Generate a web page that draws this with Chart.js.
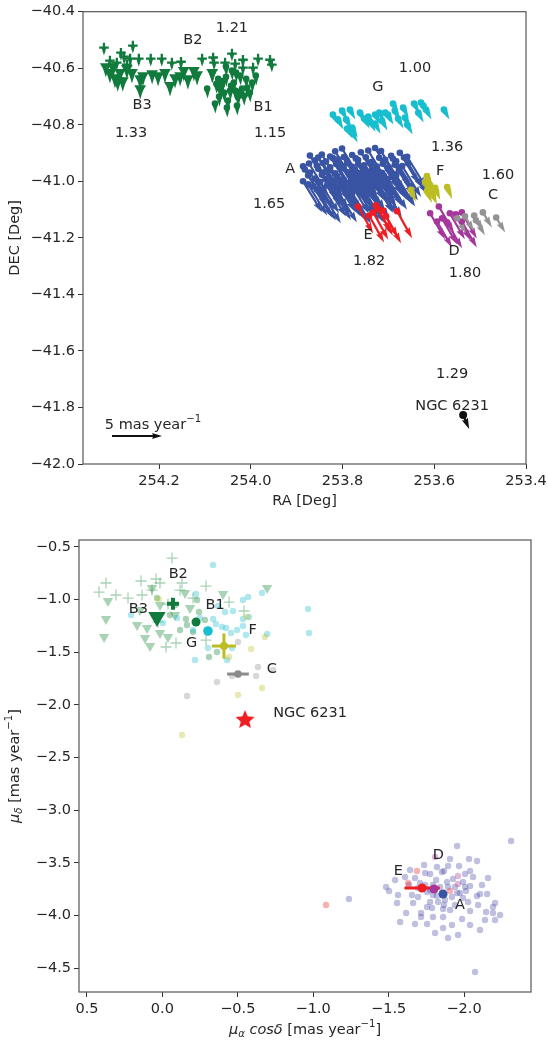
<!DOCTYPE html>
<html><head><meta charset="utf-8">
<script src="https://cdn.jsdelivr.net/npm/chart.js@4.4.1/dist/chart.umd.min.js"></script>
<style>
html,body{margin:0;padding:0;background:#fff;}
#wrap{position:relative;width:548px;height:1042px;overflow:hidden;}
canvas{position:absolute;left:0;}
#c1{top:0;} #c2{top:520px;}
</style></head><body>
<div id="wrap"><canvas id="c1" width="548" height="520"></canvas><canvas id="c2" width="548" height="522"></canvas></div>
<script>
// ================= TOP PANEL DATA (RA, DEC in deg) =================
const topXTicks = [253.4, 253.6, 253.8, 254.0, 254.2];
const topYTicks = [-42.0, -41.8, -41.6, -41.4, -41.2, -41.0, -40.8, -40.6, -40.4];

const A_ra = [253.801, 253.729,
 253.816, 253.760, 253.744, 253.716, 253.675,
 253.871, 253.845, 253.827, 253.779, 253.694, 253.659,
 253.853, 253.821, 253.797, 253.771, 253.749, 253.720, 253.690, 253.666,
 253.860, 253.836, 253.810, 253.790, 253.766, 253.736, 253.707, 253.683,
 253.873, 253.843, 253.814, 253.790, 253.766, 253.740, 253.712, 253.686, 253.657,
 253.886, 253.856, 253.827, 253.803, 253.779, 253.753, 253.725, 253.699, 253.670,
 253.882, 253.853, 253.827, 253.797, 253.773, 253.751, 253.727, 253.701, 253.677,
 253.871, 253.838, 253.816, 253.788, 253.764, 253.740, 253.714, 253.688,
 253.875, 253.845, 253.812, 253.779, 253.757, 253.734, 253.710, 253.683,
 253.860, 253.829, 253.801, 253.773, 253.749, 253.723, 253.701,
 253.886, 253.849, 253.814, 253.784, 253.757, 253.731,
 253.875, 253.825, 253.803, 253.775, 253.749, 253.723,
 253.864, 253.834, 253.795, 253.766, 253.740, 253.712,
 253.856, 253.823, 253.790, 253.762,
 253.845, 253.810, 253.779, 253.751];
const A_dec = [-40.884, -40.882,
 -40.894, -40.897, -40.891, -40.893, -40.899,
 -40.909, -40.905, -40.912, -40.907, -40.910, -40.913,
 -40.916, -40.918, -40.914, -40.919, -40.915, -40.917, -40.920, -40.916,
 -40.926, -40.930, -40.922, -40.928, -40.925, -40.931, -40.924, -40.929,
 -40.937, -40.935, -40.939, -40.936, -40.940, -40.934, -40.938, -40.941, -40.936,
 -40.947, -40.944, -40.950, -40.945, -40.949, -40.943, -40.948, -40.951, -40.946,
 -40.958, -40.956, -40.960, -40.955, -40.959, -40.957, -40.961, -40.956, -40.958,
 -40.969, -40.966, -40.972, -40.968, -40.971, -40.965, -40.970, -40.974,
 -40.979, -40.977, -40.981, -40.978, -40.982, -40.976, -40.980, -40.979,
 -40.990, -40.987, -40.993, -40.989, -40.992, -40.986, -40.991,
 -41.000, -41.003, -40.998, -41.004, -40.999, -41.002,
 -41.011, -41.009, -41.013, -41.010, -41.012, -41.008,
 -41.018, -41.015, -41.020, -41.016, -41.021, -41.017,
 -41.029, -41.027, -41.030, -41.028,
 -41.039, -41.036, -41.041, -41.037];

const B1_ra = [254.095, 254.078, 254.084, 254.071, 254.063, 254.054, 254.045, 254.037, 254.028, 254.032, 254.019, 254.010, 254.008, 253.997, 254.002, 254.050, 254.058, 254.067, 254.041, 254.023, 254.015, 253.989, 254.054, 254.069, 254.034, 254.030, 254.052, 254.061, 254.043, 254.026, 254.075];
const B1_dec = [-40.672, -40.725, -40.615, -40.637, -40.658, -40.630, -40.679, -40.651, -40.700, -40.615, -40.672, -40.637, -40.668, -40.651, -40.686, -40.714, -40.686, -40.672, -40.608, -40.626, -40.697, -40.626, -40.594, -40.700, -40.679, -40.732, -40.739, -40.645, -40.662, -40.683, -40.655];

const B2_ra = [254.320, 254.307, 254.283, 254.276, 254.257, 254.263, 254.244, 254.218, 254.194, 254.172, 254.152, 254.106, 254.082, 254.080, 254.056, 254.041, 254.034, 254.017, 254.017, 253.995, 253.984, 253.958, 253.954, 254.292, 254.270];
const B2_dec = [-40.527, -40.573, -40.545, -40.559, -40.520, -40.566, -40.566, -40.566, -40.566, -40.580, -40.577, -40.566, -40.562, -40.580, -40.580, -40.548, -40.584, -40.570, -40.598, -40.598, -40.566, -40.570, -40.587, -40.580, -40.587];

const B3_ra = [254.307, 254.296, 254.285, 254.279, 254.270, 254.259, 254.241, 254.235, 254.215, 254.187, 254.176, 254.165, 254.154, 254.137, 254.124, 254.117, 254.241, 254.316, 254.300, 254.290, 254.202, 254.146, 254.084];
const B3_dec = [-40.615, -40.633, -40.615, -40.644, -40.601, -40.615, -40.637, -40.626, -40.619, -40.615, -40.661, -40.633, -40.626, -40.637, -40.608, -40.623, -40.672, -40.594, -40.594, -40.644, -40.626, -40.608, -40.615];

const G_ra = [253.821, 253.810, 253.792, 253.784, 253.790, 253.779, 253.779, 253.753, 253.744, 253.740, 253.729, 253.729, 253.720, 253.714, 253.707, 253.701, 253.690, 253.686, 253.668, 253.664, 253.659, 253.644, 253.635, 253.629, 253.624, 253.618, 253.579, 253.762, 253.679, 253.801];
const G_dec = [-40.764, -40.781, -40.781, -40.746, -40.813, -40.810, -40.827, -40.778, -40.771, -40.789, -40.764, -40.796, -40.757, -40.785, -40.757, -40.764, -40.725, -40.750, -40.739, -40.774, -40.799, -40.725, -40.757, -40.721, -40.732, -40.746, -40.746, -40.757, -40.778, -40.750];

const E_ra = [253.766, 253.742, 253.727, 253.723, 253.712, 253.705, 253.681, 253.733];
const E_dec = [-41.089, -41.121, -41.085, -41.096, -41.103, -41.124, -41.106, -41.110];

const F_ra = [253.616, 253.614, 253.620, 253.609, 253.598, 253.651, 253.572, 253.605, 253.616];
const F_dec = [-40.981, -40.995, -41.002, -41.013, -41.023, -41.030, -41.020, -41.040, -41.034];

const D_ra = [253.609, 253.590, 253.594, 253.583, 253.566, 253.553, 253.540, 253.540, 253.572];
const D_dec = [-41.113, -41.089, -41.142, -41.131, -41.113, -41.117, -41.110, -41.142, -41.145];

const C_ra = [253.550, 253.533, 253.513, 253.494, 253.465, 253.509];
const C_dec = [-41.131, -41.124, -41.121, -41.110, -41.128, -41.138];

const NGC_ra = [253.537];
const NGC_dec = [-41.827];

// arrow (proper motion) per group, mas/yr, as drawn in the top panel
const quiverGroups = ['B3', 'B2', 'B1', 'G', 'A', 'E', 'F', 'D', 'C', 'NGC'];
const quiverPmra  = [0.0, 0.0, -0.05, -0.55, -1.9, -1.5, -0.5, -1.5, -0.9, -0.6];
const quiverPmdec = [-1.1, -0.8, -1.0, -1.0, -3.1, -2.7, -1.2, -2.6, -1.5, -1.4];
const keyPm = [5];

const topLabels = ['1.21','B2','B3','1.33','B1','1.15','1.00','G','1.36','F','1.60','C','A','1.65','E','1.82','D','1.80','1.29','NGC 6231'];
const topLabelRa = [254.041, 254.126, 254.237, 254.261, 253.973, 253.958, 253.642, 253.723, 253.572, 253.587, 253.461, 253.472, 253.914, 253.960, 253.744, 253.742, 253.557, 253.533, 253.561, 253.561];
const topLabelDec = [-40.457, -40.502, -40.732, -40.831, -40.738, -40.831, -40.601, -40.668, -40.880, -40.965, -40.979, -41.050, -40.958, -41.082, -41.191, -41.283, -41.248, -41.325, -41.682, -41.795];

// ================= BOTTOM PANEL DATA (pmra*cosdec, pmdec in mas/yr) =================
const botXTicks = [0.5, 0.0, -0.5, -1.0, -1.5, -2.0];
const botYTicks = [-4.5, -4.0, -3.5, -3.0, -2.5, -2.0, -1.5, -1.0, -0.5];

const fA_pmra = [-1.954,-2.312,-1.483,-1.503,-1.556,-1.576,-1.675,-1.735,-1.775,-1.821,-1.854,-1.867,-1.907,-2.033,-2.086,-2.007,-2.040,-2.060,-2.119,-2.007,-1.993,-2.086,-2.106,-2.153,-2.206,-2.192,-2.192,-2.146,-2.040,-1.987,-1.960,-1.894,-1.808,-1.861,-1.794,-1.715,-1.715,-1.755,-1.775,-1.695,-1.655,-1.635,-1.609,-1.675,-1.708,-1.755,-1.794,-1.861,-1.907,-1.920,-1.954,-2.013,-2.040,-1.993,-1.927,-1.887,-1.841,-1.794,-1.874,-1.828,-1.940,-1.662,-1.755,-1.237,-2.073,-1.815,-1.854,-1.894,-1.742,-1.775,-1.821,-1.940,-1.973,-1.867,-1.788,-1.695,-1.742,-1.894,-1.967,-2.093,-2.027,-1.616,-1.543,-2.139,-2.106,-2.040,-1.920,-1.861,-1.642,-1.562,-2.159,-2.206,-2.239];
const fA_pmdec = [-3.341,-3.293,-3.730,-3.768,-3.882,-4.063,-4.082,-3.521,-3.607,-3.540,-3.588,-3.578,-3.464,-3.464,-3.483,-3.607,-3.578,-3.635,-3.711,-3.730,-3.835,-3.816,-3.797,-3.797,-3.882,-3.920,-3.977,-3.968,-3.958,-4.034,-4.186,-4.215,-4.167,-4.015,-4.015,-4.015,-3.977,-3.920,-3.873,-3.825,-3.806,-3.711,-3.635,-3.645,-3.692,-3.778,-3.711,-3.939,-3.949,-3.825,-3.787,-3.768,-3.721,-3.683,-3.654,-3.683,-3.730,-3.806,-3.854,-3.873,-3.901,-3.882,-4.082,-3.844,-4.538,-3.664,-3.787,-3.730,-3.711,-3.759,-3.816,-3.730,-3.787,-3.901,-3.930,-3.740,-3.597,-3.531,-3.531,-3.901,-3.873,-3.977,-3.664,-4.044,-4.139,-4.092,-4.092,-4.120,-3.569,-3.806,-3.645,-4.044,-3.997];

const fB2_pmra = [-0.064, 0.142, 0.042, 0.016, -0.130, -0.289, 0.374, 0.420, 0.308, 0.135, -0.442, -0.541, -0.024, -0.090, -0.289, -0.117, -0.203, 0.069, -0.037, 0.029, 0.228];
const fB2_pmdec = [-0.605, -0.823, -0.804, -0.842, -0.842, -0.871, -0.842, -0.928, -0.956, -0.956, -1.023, -1.108, -1.450, -1.412, -1.384, -0.909, -0.985, -0.909, -1.042, -1.213, -0.985];

const fB3_pmra = [0.361, 0.374, 0.387, 0.168, 0.102, 0.115, 0.082, 0.069, 0.016, -0.037, -0.150, -0.183, -0.402, -0.694, 0.149, -0.084, 0.016];
const fB3_pmdec = [-1.013, -1.184, -1.355, -1.241, -1.270, -1.365, -1.441, -0.890, -1.317, -1.355, -0.937, -1.080, -0.947, -0.890, -1.099, -1.146, -1.051];

const fB1_pmra = [0.036, -0.229, -0.243, -0.156, -0.117, -0.309, -0.362, -0.163, -0.050, -0.084, -0.282, -0.203];
const fB1_pmdec = [-0.985, -1.004, -1.118, -1.184, -1.289, -1.545, -1.498, -1.241, -1.146, -1.051, -1.194, -1.308];

const fG_pmra = [-0.336, -0.223, -0.534, -0.568, -0.660, -0.468, -0.534, -0.336, -0.355, -0.395, -0.422, -0.455, -0.495, -0.534, -0.554, -0.694, -0.966, -0.972, -0.216, -0.428, -0.302, -0.462, 0.208, -0.203, -0.249, -0.004, -0.097, -0.574, -0.415, -0.369];
const fG_pmdec = [-0.671, -0.947, -1.004, -0.975, -0.937, -1.108, -1.184, -1.184, -1.232, -1.260, -1.270, -1.317, -1.289, -1.251, -1.336, -1.327, -1.089, -1.317, -1.574, -1.574, -1.460, -1.460, -1.146, -1.289, -1.175, -1.222, -1.175, -1.165, -1.118, -1.061];

const fF_pmra = [0.023, -0.561, -0.588, -0.680, -0.660, -0.501, -0.442, -0.130];
const fF_pmdec = [-0.994, -1.165, -1.469, -1.355, -1.840, -1.906, -1.545, -2.286];

const fC_pmra = [-0.501, -0.634, -0.733, -0.621, -0.362, -0.163, -0.462];
const fC_pmdec = [-1.403, -1.640, -1.669, -1.726, -1.783, -1.916, -1.726];

const fE_pmra = [-1.085, -1.688, -1.629, -1.907];
const fE_pmdec = [-3.901, -3.578, -3.692, -3.768];

const fD_pmra = [-1.808, -1.960, -1.960];
const fD_pmdec = [-3.445, -3.626, -3.702];

const meanNames  = ['B2', 'B3', 'B1', 'G', 'F', 'C', 'NGC 6231', 'E', 'D', 'A'];
const meanPmra   = [-0.070, 0.036, -0.223, -0.302, -0.408, -0.501, -0.548, -1.722, -1.801, -1.861];
const meanPmdec  = [-1.040, -1.164, -1.213, -1.298, -1.441, -1.707, -2.144, -3.740, -3.749, -3.797];
const meanErrRa  = [0, 0, 0, 0, 0.080, 0.072, 0.030, 0.117, 0, 0];
const meanErrDec = [0, 0, 0, 0, 0.120, 0.012, 0.015, 0, 0, 0];

const botLabels = ['B2', 'B3', 'B1', 'G', 'F', 'C', 'NGC 6231', 'E', 'D', 'A'];
const botLabelX = [-0.105, 0.160, -0.349, -0.194, -0.599, -0.725, -0.979, -1.564, -1.830, -1.973];
const botLabelY = [-0.759, -1.092, -1.051, -1.415, -1.292, -1.662, -2.080, -3.576, -3.426, -3.901];

// ================= STYLE =================
const FONT = "'DejaVu Sans', 'Liberation Sans', sans-serif";
const FS = 14.5;
const TXT = '#262626';
const cGreen = '#107b3c', cCyan = '#17becf', cBlue = '#3a54a4', cRed = '#ee1d23',
      cOlive = '#bcbd22', cPurple = '#a4369c', cGray = '#939393', cBlack = '#111111';
const ARROW_PX = 10; // pixels per mas/yr

function rgba(hex, a) {
  const n = parseInt(hex.slice(1), 16);
  return `rgba(${(n>>16)&255},${(n>>8)&255},${n&255},${a})`;
}
function fmtTick(v) { return (v < -1e-9 ? '\u2212' : '') + Math.abs(v).toFixed(1); }
function pts(xs, ys) { return xs.map((x, i) => ({x: x, y: ys[i]})); }

function drawArrow(ctx, x0, y0, dx, dy, color, w) {
  const L = Math.hypot(dx, dy);
  if (L < 0.3) return;
  const ux = dx / L, uy = dy / L, px = -uy, py = ux;
  let hl = 5 * w, hal = 4.5 * w, hw = 3 * w, sw = w;
  if (L < hl) { const s = L / hl; hl *= s; hal *= s; hw *= s; sw *= s; }
  const P = [[0, -sw/2], [L - hal, -sw/2], [L - hl, -hw/2], [L, 0], [L - hl, hw/2], [L - hal, sw/2], [0, sw/2]];
  ctx.beginPath();
  P.forEach((p, i) => {
    const X = x0 + p[0]*ux + p[1]*px, Y = y0 + p[0]*uy + p[1]*py;
    if (i === 0) ctx.moveTo(X, Y); else ctx.lineTo(X, Y);
  });
  ctx.closePath();
  ctx.fillStyle = color;
  ctx.fill();
}

function drawRich(ctx, parts, cx, cy, rot) {
  ctx.save();
  ctx.translate(cx, cy);
  ctx.rotate(rot);
  const fonts = parts.map(p => (p.it ? 'italic ' : '') + ((p.sub || p.sup) ? FS * 0.7 : FS) + 'px ' + FONT);
  const widths = parts.map((p, i) => { ctx.font = fonts[i]; return ctx.measureText(p.t).width; });
  const total = widths.reduce((a, b) => a + b, 0);
  let x = -total / 2;
  ctx.textBaseline = 'middle'; ctx.textAlign = 'left'; ctx.fillStyle = TXT;
  parts.forEach((p, i) => {
    ctx.font = fonts[i];
    const dy = p.sub ? FS * 0.28 : (p.sup ? -FS * 0.38 : 0);
    ctx.fillText(p.t, x, dy);
    x += widths[i];
  });
  ctx.restore();
}

function frame(chart) {
  const a = chart.chartArea, ctx = chart.ctx;
  ctx.save();
  ctx.strokeStyle = '#555555';
  ctx.lineWidth = 1.2;
  ctx.strokeRect(a.left, a.top, a.right - a.left, a.bottom - a.top);
  ctx.restore();
}

function scaleOpts(min, max, reverse, tickList, isX, fitSize) {
  return {
    type: 'linear', min: min, max: max, reverse: reverse,
    afterBuildTicks: s => { s.ticks = tickList.map(v => ({value: v})); },
    afterFit: s => { if (isX) s.height = fitSize; else s.width = fitSize; },
    ticks: {callback: v => fmtTick(v), font: {family: FONT, size: FS}, color: TXT,
            padding: isX ? 4 : 3, autoSkip: false, maxRotation: 0, minRotation: 0},
    grid: {drawOnChartArea: false, drawTicks: true, tickLength: 5, color: '#333333', lineWidth: 1},
    border: {display: false},
    title: {display: false}
  };
}

// ================= TOP CHART =================
const groupData = {A: [A_ra, A_dec], B1: [B1_ra, B1_dec], B2: [B2_ra, B2_dec], B3: [B3_ra, B3_dec],
  G: [G_ra, G_dec], E: [E_ra, E_dec], F: [F_ra, F_dec], D: [D_ra, D_dec], C: [C_ra, C_dec], NGC: [NGC_ra, NGC_dec]};
const groupColor = {A: cBlue, B1: cGreen, B2: cGreen, B3: cGreen, G: cCyan, E: cRed, F: cOlive, D: cPurple, C: cGray, NGC: cBlack};

const quiverPlugin = {
  id: 'quiver',
  beforeDatasetsDraw(chart) {
    const ctx = chart.ctx, xs = chart.scales.x, ys = chart.scales.y;
    const sx = Math.sign(xs.getPixelForValue(254.0) - xs.getPixelForValue(253.9));
    const sy = Math.sign(ys.getPixelForValue(-41.0) - ys.getPixelForValue(-41.1));
    ctx.save();
    quiverGroups.forEach((g, gi) => {
      const [ra, de] = groupData[g];
      ra.forEach((r, i) => {
        const x0 = xs.getPixelForValue(r), y0 = ys.getPixelForValue(de[i]);
        drawArrow(ctx, x0, y0, quiverPmra[gi] * ARROW_PX * sx, quiverPmdec[gi] * ARROW_PX * sy, groupColor[g], 2.2);
      });
    });
    ctx.restore();
  },
  afterDraw(chart) {
    const ctx = chart.ctx, xs = chart.scales.x, ys = chart.scales.y, a = chart.chartArea;
    frame(chart);
    ctx.save();
    ctx.font = FS + 'px ' + FONT; ctx.fillStyle = TXT; ctx.textAlign = 'center'; ctx.textBaseline = 'middle';
    topLabels.forEach((t, i) => ctx.fillText(t, xs.getPixelForValue(topLabelRa[i]), ys.getPixelForValue(topLabelDec[i])));
    // quiver key
    const kx = a.left + 29, ky = a.bottom - 28;
    drawArrow(ctx, kx, ky, keyPm[0] * ARROW_PX, 0, cBlack, 2.0);
    ctx.restore();
    drawRich(ctx, [{t: keyPm[0] + ' mas year'}, {t: '\u22121', sup: true}], kx + 41, ky - 11, 0);
    drawRich(ctx, [{t: 'RA [Deg]'}], (a.left + a.right) / 2, a.bottom + 37, 0);
    drawRich(ctx, [{t: 'DEC [Deg]'}], 15, (a.top + a.bottom) / 2, -Math.PI / 2);
  }
};

function topDS(g, style, r, extra) {
  const [ra, de] = groupData[g];
  return Object.assign({data: pts(ra, de), pointStyle: style, radius: r, pointRadius: r,
    backgroundColor: groupColor[g], borderColor: groupColor[g], borderWidth: 0}, extra || {});
}

new Chart(document.getElementById('c1'), {
  type: 'scatter',
  data: {datasets: [
    topDS('NGC', 'circle', 4),
    topDS('C', 'circle', 3.3),
    topDS('D', 'circle', 3.3),
    topDS('F', 'circle', 3.3),
    topDS('E', 'circle', 3.3),
    topDS('A', 'circle', 3.3),
    topDS('G', 'circle', 3.3),
    topDS('B1', 'circle', 3.3),
    topDS('B2', 'cross', 4.8, {borderWidth: 2.3, pointBorderWidth: 2.3}),
    topDS('B3', 'triangle', 6.8, {rotation: 180, pointRotation: 180})
  ]},
  options: {
    responsive: false, animation: false, events: [],
    layout: {padding: {top: 11, right: 22, left: 0, bottom: 0}},
    plugins: {legend: {display: false}, tooltip: {enabled: false}},
    scales: {
      x: scaleOpts(253.4, 254.3657, true, topXTicks, true, 56),
      y: scaleOpts(-42.0, -40.4, false, topYTicks, false, 83)
    }
  },
  plugins: [quiverPlugin]
});

// ================= BOTTOM CHART =================
function makeStar(r, color) {
  const c = document.createElement('canvas');
  c.width = c.height = Math.ceil(2 * r + 2);
  const g = c.getContext('2d');
  g.fillStyle = color;
  g.beginPath();
  for (let i = 0; i < 10; i++) {
    const ang = -Math.PI / 2 + i * Math.PI / 5;
    const rr = i % 2 === 0 ? r : r * 0.45;
    g.lineTo(c.width / 2 + rr * Math.cos(ang), c.height / 2 + rr * Math.sin(ang));
  }
  g.closePath(); g.fill();
  return c;
}
const starImg = makeStar(10, cRed);

function faint(xs, ys, color, style, r, order, bw) {
  const isLine = style === 'cross';
  return {data: pts(xs, ys), pointStyle: style, pointRadius: r, order: order,
    rotation: style === 'triangle' ? 180 : 0,
    backgroundColor: isLine ? 'rgba(0,0,0,0)' : color, borderColor: color,
    borderWidth: isLine ? (bw || 1.3) : 0};
}
function mean(i, color, style, r, order, bw) {
  const isLine = style === 'cross';
  return {data: [{x: meanPmra[i], y: meanPmdec[i]}], pointStyle: style, pointRadius: r, order: order,
    rotation: style === 'triangle' ? 180 : 0,
    backgroundColor: color, borderColor: color, borderWidth: isLine ? bw : 0,
    errIndex: i, errColor: color};
}

const errPlugin = {
  id: 'errbars',
  beforeDatasetDraw(chart, args) {
    const ds = chart.data.datasets[args.index];
    if (ds.errIndex === undefined) return;
    const i = ds.errIndex, xs = chart.scales.x, ys = chart.scales.y, ctx = chart.ctx;
    ctx.save();
    ctx.strokeStyle = ds.errColor; ctx.lineWidth = 3; ctx.lineCap = 'butt';
    if (meanErrRa[i] > 0) {
      ctx.beginPath();
      ctx.moveTo(xs.getPixelForValue(meanPmra[i] - meanErrRa[i]), ys.getPixelForValue(meanPmdec[i]));
      ctx.lineTo(xs.getPixelForValue(meanPmra[i] + meanErrRa[i]), ys.getPixelForValue(meanPmdec[i]));
      ctx.stroke();
    }
    if (meanErrDec[i] > 0) {
      ctx.beginPath();
      ctx.moveTo(xs.getPixelForValue(meanPmra[i]), ys.getPixelForValue(meanPmdec[i] - meanErrDec[i]));
      ctx.lineTo(xs.getPixelForValue(meanPmra[i]), ys.getPixelForValue(meanPmdec[i] + meanErrDec[i]));
      ctx.stroke();
    }
    ctx.restore();
  },
  afterDraw(chart) {
    const ctx = chart.ctx, xs = chart.scales.x, ys = chart.scales.y, a = chart.chartArea;
    frame(chart);
    ctx.save();
    ctx.font = FS + 'px ' + FONT; ctx.fillStyle = TXT; ctx.textAlign = 'center'; ctx.textBaseline = 'middle';
    botLabels.forEach((t, i) => ctx.fillText(t, xs.getPixelForValue(botLabelX[i]), ys.getPixelForValue(botLabelY[i])));
    ctx.restore();
    drawRich(ctx, [{t: '\u03bc', it: true}, {t: '\u03b1', it: true, sub: true}, {t: ' cos\u03b4', it: true}, {t: ' [mas year'}, {t: '\u22121', sup: true}, {t: ']'}],
      (a.left + a.right) / 2, a.bottom + 38, 0);
    drawRich(ctx, [{t: '\u03bc', it: true}, {t: '\u03b4', it: true, sub: true}, {t: ' [mas year'}, {t: '\u22121', sup: true}, {t: ']'}],
      15, (a.top + a.bottom) / 2, -Math.PI / 2);
  }
};

const greenFaint = rgba('#1e8c3c', 0.38);
new Chart(document.getElementById('c2'), {
  type: 'scatter',
  data: {datasets: [
    faint(fA_pmra, fA_pmdec, rgba('#3c3ca0', 0.33), 'circle', 3.2, 90),
    faint(fB2_pmra, fB2_pmdec, greenFaint, 'cross', 5.5, 89, 1.3),
    faint(fB3_pmra, fB3_pmdec, greenFaint, 'triangle', 6, 88),
    faint(fB1_pmra, fB1_pmdec, greenFaint, 'circle', 3.2, 87),
    faint(fG_pmra, fG_pmdec, rgba(cCyan, 0.35), 'circle', 3.2, 86),
    faint(fF_pmra, fF_pmdec, rgba(cOlive, 0.35), 'circle', 3.2, 85),
    faint(fC_pmra, fC_pmdec, rgba('#8c8c8c', 0.35), 'circle', 3.2, 84),
    faint(fE_pmra, fE_pmdec, rgba(cRed, 0.35), 'circle', 3.2, 83),
    faint(fD_pmra, fD_pmdec, rgba(cPurple, 0.35), 'circle', 3.2, 82),
    mean(0, cGreen, 'cross', 6, 20, 4),
    mean(1, cGreen, 'triangle', 10, 19),
    mean(2, cGreen, 'circle', 4.5, 18),
    mean(3, cCyan, 'circle', 4.8, 17),
    mean(4, cOlive, 'circle', 4, 16),
    mean(5, '#8a8a8a', 'circle', 3.8, 15),
    Object.assign(mean(6, cRed, starImg, 10, 14), {errColor: cRed}),
    mean(7, cRed, 'circle', 4.5, 13),
    mean(8, cPurple, 'circle', 4.5, 12),
    mean(9, cBlue, 'circle', 4.5, 11)
  ]},
  options: {
    responsive: false, animation: false, events: [],
    layout: {padding: {top: 20, right: 17, left: 0, bottom: 0}},
    plugins: {legend: {display: false}, tooltip: {enabled: false}},
    scales: {
      x: scaleOpts(-2.444, 0.553, true, botXTicks, true, 50),
      y: scaleOpts(-4.728, -0.4335, false, botYTicks, false, 79)
    }
  },
  plugins: [errPlugin]
});
</script></body></html>
